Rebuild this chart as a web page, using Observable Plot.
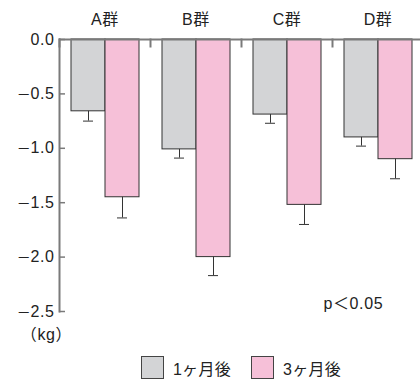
<!DOCTYPE html>
<html>
<head>
<meta charset="utf-8">
<script src="https://cdn.jsdelivr.net/npm/d3@7"></script>
<script src="https://cdn.jsdelivr.net/npm/@observablehq/plot@0.6"></script>
<style>
  @font-face { font-family: "MinusFace"; src: local("DejaVu Sans"); unicode-range: U+2212; }
  html, body { margin: 0; padding: 0; background: #fff; }
  body { width: 420px; height: 382px; overflow: hidden; font-family: "Liberation Sans", "Noto Sans CJK JP", sans-serif; }
  #chart svg text { letter-spacing: 0.6px; }
  #legend { display: flex; justify-content: center; align-items: center; padding-left: 62px; padding-top: 6px; height: 29px; font-size: 16px; letter-spacing: 0.3px; color: #222; }
  .item { display: flex; align-items: center; margin: 0 10px; }
  .sw { width: 21px; height: 21px; border: 1px solid #444; margin-right: 9px; }
</style>
</head>
<body>
<div id="chart"></div>
<div id="legend"></div>
<script>
const groups = ["A群", "B群", "C群", "D群"];
const periods = ["1ヶ月後", "3ヶ月後"];
const m1 = [-0.66, -1.01, -0.69, -0.90];
const m1err = [0.09, 0.08, 0.08, 0.08];
const m3 = [-1.45, -2.00, -1.52, -1.10];
const m3err = [0.19, 0.17, 0.18, 0.18];
const yTicks = [0, -0.5, -1.0, -1.5, -2.0, -2.5];
const colors = ["#d3d4d6", "#f6c0d8"];
const unitLabel = "（kg）";
const note = "p＜0.05";

const rows = groups.flatMap((g, i) => [
  {g, period: periods[0], v: m1[i], e: m1err[i]},
  {g, period: periods[1], v: m3[i], e: m3err[i]}
]);

const fmt = d3.format(".1f");
const axisGray = "#7a7a7a";
const fs = 16;
const family = "MinusFace, 'Liberation Sans', 'Noto Sans CJK JP', sans-serif";

const chart = Plot.plot({
  width: 420,
  height: 347,
  marginLeft: 59,
  marginTop: 39,
  marginBottom: 36,
  marginRight: -3,
  style: {fontSize: "16px", fontFamily: family, color: "#222", background: "#fff"},
  fx: {domain: groups, padding: 0, label: null},
  x: {domain: periods, paddingInner: 0, paddingOuter: 0.32, axis: null},
  y: {domain: [-2.5, 0], axis: null},
  color: {domain: periods, range: colors},
  marks: [
    Plot.barY(rows, {fx: "g", x: "period", y: "v", fill: "period", stroke: "#333", strokeWidth: 1}),
    Plot.ruleX(rows, {fx: "g", x: "period", y1: "v", y2: d => d.v - d.e, stroke: "#333", strokeWidth: 1}),
    Plot.tickY(rows, {fx: "g", x: "period", y: d => d.v - d.e, insetLeft: 12, insetRight: 12, stroke: "#333", strokeWidth: 1}),
    Plot.frame({anchor: "left", insetBottom: 265, stroke: axisGray, strokeWidth: 2}),
    Plot.frame({anchor: "left", facetAnchor: "left", stroke: axisGray, strokeWidth: 2}),
    Plot.ruleY([0], {stroke: axisGray, strokeWidth: 2}),
    Plot.axisY({ticks: yTicks, tickSize: -6, tickFormat: () => "", label: null, stroke: axisGray, strokeWidth: 1.5}),
    Plot.axisY({ticks: yTicks, tickSize: 0, tickPadding: 5, tickFormat: fmt, label: null, fill: "#222", fontSize: fs}),
    Plot.axisFx({anchor: "top", tickSize: 0, tickPadding: 15, label: null, fill: "#222", fontSize: fs}),
    Plot.text([{g: groups[0], t: unitLabel}], {fx: "g", text: "t", frameAnchor: "bottom-left", dx: -13, dy: 28, textAnchor: "middle", fill: "#222", fontSize: fs}),
    Plot.text([{g: groups[3], t: note}], {fx: "g", text: "t", frameAnchor: "bottom-left", dx: -9, dy: -3, textAnchor: "start", fill: "#222", fontSize: fs})
  ]
});
document.getElementById("chart").appendChild(chart);

const legend = document.getElementById("legend");
periods.forEach((p, i) => {
  const item = document.createElement("div");
  item.className = "item";
  const sw = document.createElement("div");
  sw.className = "sw";
  sw.style.background = colors[i];
  const lab = document.createElement("span");
  lab.textContent = p;
  item.appendChild(sw);
  item.appendChild(lab);
  legend.appendChild(item);
});
</script>
</body>
</html>
